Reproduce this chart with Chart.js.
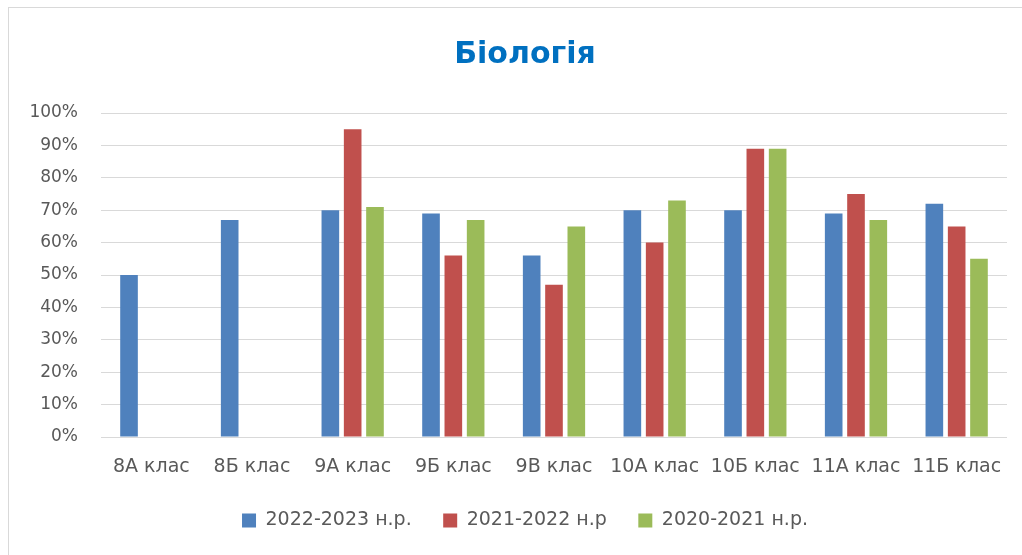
<!DOCTYPE html>
<html><head><meta charset="utf-8">
<script src="https://cdn.jsdelivr.net/npm/chart.js@4"></script>
<style>
html,body{margin:0;padding:0;background:#fff;overflow:hidden;width:1022px;height:555px}
#frame{position:absolute;left:8px;top:7px;width:1100px;height:700px;border:1px solid #d9d9d9;box-sizing:border-box}
#wrap{position:absolute;left:0;top:0;width:1022px;height:555px}
</style></head><body>
<div id="frame"></div>
<div id="wrap"><canvas id="c" width="1022" height="555"></canvas></div>
<script>
const categories = ['8А клас','8Б клас','9А клас','9Б клас','9В клас','10А клас','10Б клас','11А клас','11Б клас'];
const seriesNames = ['2022-2023 н.р.','2021-2022 н.р','2020-2021 н.р.'];
const values2022 = [50,67,70,69,56,70,70,69,72];
const values2021 = [null,null,95,56,47,60,89,75,65];
const values2020 = [null,null,71,67,65,73,89,67,55];
const yTickValues = [0,10,20,30,40,50,60,70,80,90,100];
const titleText = 'Біологія';

const colors = ['#4F81BD','#C0504D','#9BBB59'];
const FONT = 'DejaVu Sans';

new Chart(document.getElementById('c'), {
  type: 'bar',
  data: {
    labels: categories,
    datasets: [values2022, values2021, values2020].map((d, i) => ({
      label: seriesNames[i],
      data: d,
      backgroundColor: colors[i],
      borderWidth: 0,
      categoryPercentage: 0.665,
      barPercentage: 0.79
    }))
  },
  options: {
    responsive: false,
    animation: false,
    devicePixelRatio: 1,
    layout: { padding: { left: 43, right: 15, top: 0, bottom: 15 } },
    plugins: {
      title: {
        display: true,
        text: titleText,
        color: '#0070C0',
        font: { family: FONT, size: 30, weight: 'bold' },
        padding: { top: 37, bottom: 40 }
      },
      legend: {
        position: 'bottom',
        labels: {
          color: '#595959',
          font: { family: FONT, size: 19 },
          boxWidth: 14,
          boxHeight: 14,
          padding: 31.5
        }
      },
      tooltip: { enabled: false }
    },
    scales: {
      x: {
        grid: { display: false, drawTicks: false },
        border: { display: false },
        ticks: { color: '#595959', font: { family: FONT, size: 19 }, padding: 19, maxRotation: 0 },
        afterFit: s => { s.height = 42.5; }
      },
      y: {
        min: 0, max: 100,
        afterBuildTicks: s => { s.ticks = yTickValues.map(v => ({ value: v })); },
        grid: { color: '#d9d9d9', lineWidth: 1, drawTicks: false },
        border: { display: false },
        ticks: { color: '#595959', font: { family: FONT, size: 17 }, padding: 23, callback: v => v + '%' },
        afterFit: s => { s.width = 58; s._computeLabelArea = () => undefined; }
      }
    }
  }
});
</script>
</body></html>
